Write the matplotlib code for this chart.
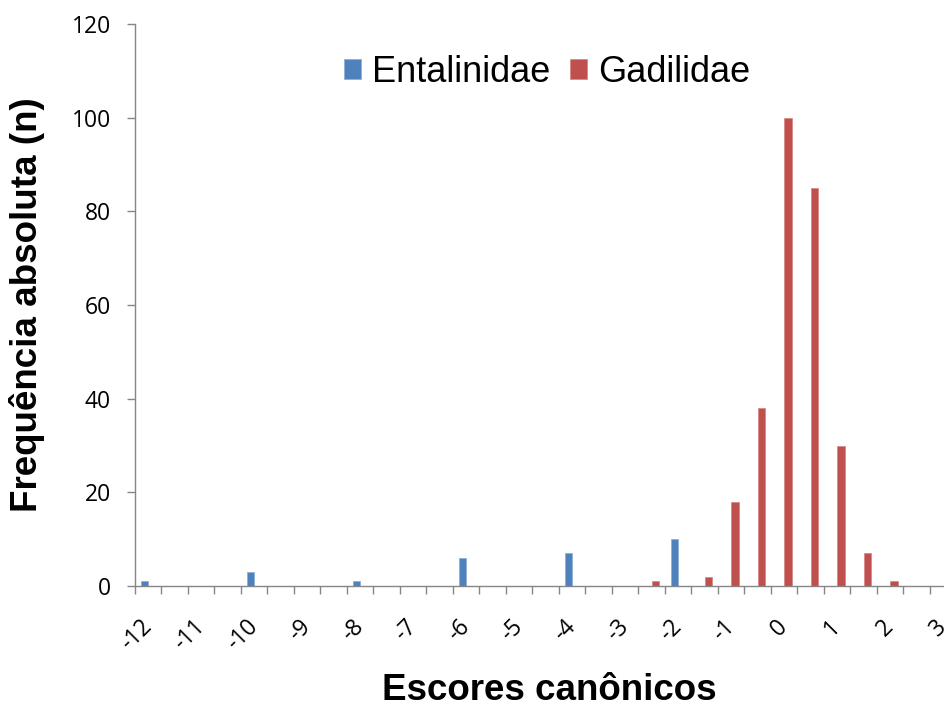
"""
Histogram of canonical scores: Entalinidae vs Gadilidae
"""

import matplotlib.pyplot as plt
from matplotlib.ticker import NullFormatter

plt.rcParams['font.family'] = ['Liberation Sans', 'DejaVu Sans']

# category values (half-unit classes)
categories = [-12, -11.5, -11, -10.5, -10, -9.5, -9, -8.5, -8, -7.5, -7, -6.5,
              -6, -5.5, -5, -4.5, -4, -3.5, -3, -2.5, -2, -1.5, -1, -0.5,
              0, 0.5, 1, 1.5, 2, 2.5, 3]
entalinidae = [1, 0, 0, 0, 3, 0, 0, 0, 1, 0, 0, 0,
               6, 0, 0, 0, 7, 0, 0, 0, 10, 0, 0, 0,
               0, 0, 0, 0, 0, 0, 0]
gadilidae = [0, 0, 0, 0, 0, 0, 0, 0, 0, 0, 0, 0,
             0, 0, 0, 0, 0, 0, 0, 1, 0, 2, 18, 38,
             100, 85, 30, 7, 1, 0, 0]
tick_labels = ['-12', '-11', '-10', '-9', '-8', '-7', '-6', '-5', '-4',
               '-3', '-2', '-1', '0', '1', '2', '3']

BLUE = '#4F81BD'
RED = '#C0504D'
AXIS = '#868686'
TICK_FONT = ['Open Sans', 'DejaVu Sans']

fig = plt.figure(figsize=(9.45, 7.01), dpi=100)
# axes deliberately runs past the right edge (the source image is cropped)
ax = fig.add_axes([135 / 945, 115 / 701, 821.5 / 945, 562 / 701])

n = len(categories)
idx = list(range(n))
w = 0.28
ax.bar([i + 0.36 for i in idx], entalinidae, width=w, color=BLUE,
       edgecolor='#8fb0d8', linewidth=0.6, label='Entalinidae')
ax.bar([i + 0.64 for i in idx], gadilidae, width=w, color=RED,
       edgecolor='#d98a88', linewidth=0.6, label='Gadilidae')

ax.set_xlim(0, n)
ax.set_ylim(0, 120)
ax.set_yticks(range(0, 121, 20))

# tick marks at category boundaries, labels at every other category centre
ax.set_xticks(range(0, n + 1))
ax.xaxis.set_major_formatter(NullFormatter())
label_pos = [i + 0.5 for i in idx if i % 2 == 0]
ax.set_xticks(label_pos, tick_labels, minor=True)
for lab in ax.get_xticklabels(minor=True):
    lab.set_rotation(45)
    lab.set_ha('right')
    lab.set_va('center')
    lab.set_rotation_mode('anchor')
    lab.set_family(TICK_FONT)
for lab in ax.get_yticklabels():
    lab.set_family(TICK_FONT)

ax.tick_params(axis='x', which='major', length=5.5, width=1, color=AXIS,
               direction='out')
ax.tick_params(axis='x', which='minor', length=0, pad=27, labelsize=16.5)
ax.tick_params(axis='y', length=5.5, width=1, color=AXIS, direction='out',
               pad=12, labelsize=16.5)

for s in ['top', 'right']:
    ax.spines[s].set_visible(False)
for s in ['left', 'bottom']:
    ax.spines[s].set_color(AXIS)
    ax.spines[s].set_linewidth(1)

fig.text(27 / 945, 1 - 304.5 / 701, 'Frequência absoluta (n)', rotation=90,
         ha='center', va='center', fontsize=26.5, fontweight='bold')
fig.text(549 / 945, 1 / 701, 'Escores canônicos', ha='center',
         va='baseline', fontsize=26.5, fontweight='bold')

ax.legend(loc='center', bbox_to_anchor=(547 / 945, 1 - 72 / 701),
          bbox_transform=fig.transFigure, ncol=2, frameon=False, fontsize=26,
          handlelength=0.47, handleheight=0.47, handletextpad=0.3,
          columnspacing=0.55, borderpad=0)

fig.savefig('out.png', dpi=100)
plt.close()
